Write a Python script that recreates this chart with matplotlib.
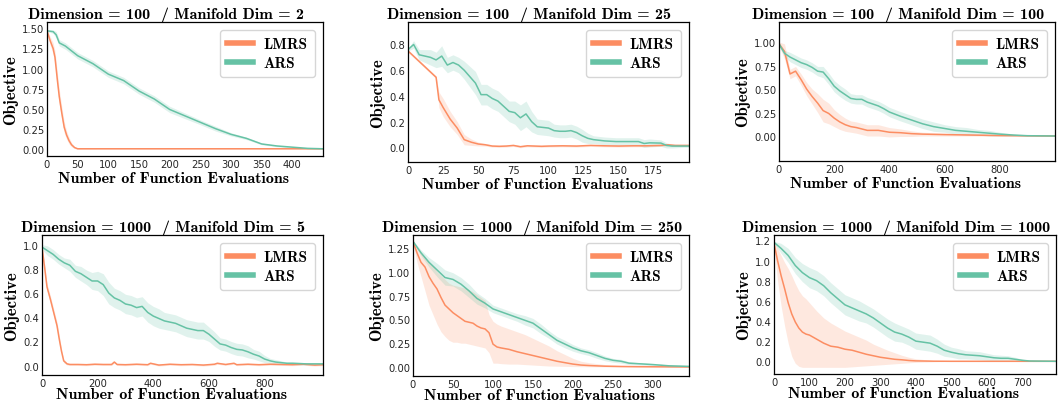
"""LMRS vs ARS convergence on synthetic manifold objectives (6 panels)."""

import matplotlib
matplotlib.use("Agg")
import matplotlib.pyplot as plt

LMRS_C = "#fc8d62"
ARS_C = "#66c2a5"
SERIF = ["cmb10", "DejaVu Serif"]

TITLES = [
    "Dimension = 100  / Manifold Dim = 2",
    "Dimension = 100  / Manifold Dim = 25",
    "Dimension = 100  / Manifold Dim = 100",
    "Dimension = 1000  / Manifold Dim = 5",
    "Dimension = 1000  / Manifold Dim = 250",
    "Dimension = 1000  / Manifold Dim = 1000",
]

# ---- panel 1: D=100, m=2 ----
p1_lmrs_x = [0, 5, 10, 13, 17, 20, 24, 28, 32, 36, 40, 45, 50, 100, 200, 300, 400, 450]
p1_lmrs = [1.47, 1.35, 1.25, 1.14, 0.85, 0.65, 0.45, 0.27, 0.17, 0.10, 0.05, 0.015, 0.0, 0.0, 0.0, 0.0, 0.0, 0.0]
p1_lmrs_sd = [0.01, 0.05, 0.07, 0.08, 0.09, 0.09, 0.08, 0.07, 0.05, 0.04, 0.025, 0.012, 0.005, 0.003, 0.003, 0.003, 0.003, 0.003]
p1_ars_x = [0, 10, 15, 20, 30, 40, 50, 60, 75, 100, 125, 150, 175, 200, 225, 250, 275, 300, 325, 350, 375, 400, 425, 450]
p1_ars = [1.47, 1.46, 1.42, 1.32, 1.28, 1.22, 1.16, 1.12, 1.06, 0.93, 0.85, 0.72, 0.62, 0.49, 0.41, 0.33, 0.25, 0.18, 0.13, 0.06, 0.035, 0.02, 0.005, 0.0]
p1_ars_sd = [0.01, 0.02, 0.04, 0.04, 0.04, 0.04, 0.04, 0.04, 0.04, 0.04, 0.04, 0.04, 0.04, 0.04, 0.035, 0.03, 0.03, 0.02, 0.015, 0.01, 0.01, 0.008, 0.005, 0.004]

# ---- panel 2: D=100, m=25 ----
p2_lmrs_x = [0, 20, 22, 25, 30, 35, 40, 45, 50, 55, 60, 65, 70, 75, 80, 85, 90, 95, 100, 110, 120,
             130, 140, 150, 160, 170, 180, 185, 190, 195, 200]
p2_lmrs = [0.75, 0.545, 0.37, 0.31, 0.22, 0.15, 0.06, 0.04, 0.026, 0.02, 0.01, 0.008, 0.01, 0.015, 0.005,
           0.012, 0.01, 0.008, 0.01, 0.012, 0.01, 0.015, 0.012, 0.01, 0.012, 0.012, 0.015, 0.02, 0.015, 0.015, 0.015]
p2_lmrs_sd = [0.01, 0.01, 0.06, 0.07, 0.06, 0.05, 0.04, 0.025, 0.015, 0.01, 0.008, 0.008, 0.008, 0.008, 0.008,
              0.008, 0.008, 0.008, 0.008, 0.008, 0.008, 0.008, 0.008, 0.008, 0.008, 0.008, 0.008, 0.008, 0.008, 0.008, 0.008]
p2_ars_x = [0, 4, 8, 12, 16, 20, 24, 28, 32, 36, 40, 44, 48, 52, 56, 60, 64, 68, 72, 76, 80, 84, 88, 92,
            96, 100, 104, 108, 112, 116, 120, 124, 128, 132, 136, 140, 148, 156, 164, 168, 172, 180, 184, 188, 196, 200]
p2_ars = [0.76, 0.80, 0.72, 0.71, 0.70, 0.68, 0.71, 0.64, 0.66, 0.64, 0.60, 0.55, 0.50, 0.41, 0.41, 0.38,
          0.36, 0.32, 0.28, 0.27, 0.23, 0.26, 0.20, 0.16, 0.155, 0.15, 0.13, 0.125, 0.125, 0.13, 0.115, 0.09,
          0.07, 0.06, 0.055, 0.05, 0.045, 0.045, 0.045, 0.03, 0.035, 0.033, 0.015, 0.01, 0.01, 0.01]
p2_ars_sd = [0.01, 0.03, 0.04, 0.05, 0.06, 0.06, 0.08, 0.06, 0.06, 0.06, 0.07, 0.08, 0.09, 0.08, 0.08, 0.08,
             0.08, 0.08, 0.08, 0.09, 0.1, 0.1, 0.08, 0.06, 0.06, 0.06, 0.05, 0.05, 0.05, 0.05, 0.05, 0.05,
             0.04, 0.03, 0.03, 0.03, 0.03, 0.03, 0.03, 0.03, 0.03, 0.025, 0.02, 0.015, 0.01, 0.01]

# ---- panel 3: D=100, m=100 ----
p3_lmrs_x = [0, 20, 40, 60, 80, 100, 120, 140, 160, 180, 200, 220, 240, 260, 280, 300, 320, 360, 400,
             440, 480, 520, 600, 700, 800, 900, 1000]
p3_lmrs = [0.98, 0.90, 0.66, 0.69, 0.60, 0.50, 0.42, 0.35, 0.27, 0.24, 0.19, 0.15, 0.12, 0.10, 0.09,
           0.075, 0.06, 0.06, 0.04, 0.035, 0.025, 0.02, 0.015, 0.01, 0.005, 0.002, 0.0]
p3_lmrs_sd = [0.02, 0.08, 0.05, 0.05, 0.06, 0.07, 0.08, 0.10, 0.12, 0.11, 0.09, 0.08, 0.07, 0.06, 0.06,
              0.06, 0.06, 0.06, 0.05, 0.04, 0.03, 0.02, 0.015, 0.01, 0.008, 0.005, 0.004]
p3_ars_x = [0, 20, 40, 60, 80, 100, 120, 140, 160, 180, 200, 220, 240, 260, 280, 300, 320, 340, 360, 380,
            400, 440, 480, 520, 560, 600, 640, 680, 720, 760, 800, 850, 900, 1000]
p3_ars = [0.98, 0.88, 0.84, 0.81, 0.78, 0.76, 0.73, 0.69, 0.68, 0.61, 0.53, 0.48, 0.44, 0.40, 0.39, 0.39,
          0.36, 0.34, 0.32, 0.29, 0.255, 0.21, 0.17, 0.13, 0.10, 0.08, 0.06, 0.05, 0.04, 0.03, 0.02, 0.01, 0.003, 0.0]
p3_ars_sd = [0.02, 0.03, 0.05, 0.05, 0.05, 0.05, 0.05, 0.05, 0.06, 0.06, 0.06, 0.06, 0.06, 0.05, 0.05,
             0.05, 0.05, 0.05, 0.05, 0.05, 0.05, 0.05, 0.05, 0.05, 0.05, 0.04, 0.04, 0.04, 0.03, 0.03, 0.02, 0.01, 0.005, 0.003]

# ---- panel 4: D=1000, m=5 ----
p4_lmrs_x = [0, 10, 18, 30, 42, 54, 62, 70, 78, 90, 100, 130, 160, 190, 220, 250, 260, 270, 300, 340,
             380, 390, 420, 460, 500, 540, 580, 620, 630, 660, 690, 700, 740, 780, 820, 860, 900, 940, 980, 1010]
p4_lmrs = [0.98, 0.80, 0.65, 0.55, 0.44, 0.33, 0.22, 0.12, 0.04, 0.015, 0.01, 0.01, 0.008, 0.012, 0.01,
           0.01, 0.03, 0.01, 0.008, 0.012, 0.008, 0.02, 0.005, 0.012, 0.008, 0.01, 0.005, 0.012, 0.02, 0.01,
           0.02, 0.008, 0.012, 0.008, 0.012, 0.01, 0.008, 0.012, 0.005, 0.008]
p4_lmrs_sd = [0.01, 0.03, 0.03, 0.03, 0.03, 0.03, 0.03, 0.02, 0.015, 0.01, 0.008, 0.008, 0.008, 0.008, 0.008,
              0.008, 0.008, 0.008, 0.008, 0.008, 0.008, 0.008, 0.008, 0.008, 0.008, 0.008, 0.008, 0.008, 0.008, 0.008,
              0.008, 0.008, 0.008, 0.008, 0.008, 0.008, 0.008, 0.008, 0.008, 0.008]
p4_ars_x = [0, 20, 40, 60, 80, 100, 120, 140, 160, 180, 200, 220, 240, 260, 280, 300, 320, 340, 360, 380,
            400, 420, 440, 460, 480, 500, 520, 540, 560, 580, 600, 620, 640, 660, 680, 700, 720, 740, 760,
            780, 800, 820, 840, 860, 880, 900, 950, 1010]
p4_ars = [0.98, 0.95, 0.92, 0.88, 0.85, 0.83, 0.78, 0.76, 0.73, 0.70, 0.70, 0.67, 0.60, 0.56, 0.54, 0.51,
          0.50, 0.48, 0.49, 0.44, 0.41, 0.39, 0.37, 0.36, 0.35, 0.33, 0.31, 0.30, 0.29, 0.29, 0.26, 0.22,
          0.18, 0.17, 0.15, 0.135, 0.13, 0.115, 0.095, 0.08, 0.055, 0.04, 0.03, 0.025, 0.02, 0.02, 0.015, 0.015]
p4_ars_sd = [0.02, 0.04, 0.04, 0.04, 0.04, 0.05, 0.05, 0.06, 0.06, 0.07, 0.08, 0.09, 0.09, 0.08, 0.08, 0.08,
             0.08, 0.08, 0.08, 0.08, 0.08, 0.08, 0.07, 0.07, 0.07, 0.07, 0.07, 0.07, 0.07, 0.07, 0.06, 0.06,
             0.05, 0.05, 0.05, 0.05, 0.05, 0.05, 0.04, 0.04, 0.03, 0.02, 0.02, 0.015, 0.01, 0.01, 0.01, 0.01]

# ---- panel 5: D=1000, m=250 (asymmetric band) ----
p5_lmrs_x = [0, 5, 10, 15, 20, 25, 30, 35, 40, 45, 50, 55, 60, 65, 70, 75, 80, 85, 90, 95, 100, 105,
             110, 120, 130, 140, 150, 160, 170, 180, 190, 200, 210, 220, 240, 260, 280, 300, 345]
p5_lmrs = [1.32, 1.20, 1.10, 1.05, 0.95, 0.88, 0.82, 0.73, 0.65, 0.61, 0.57, 0.54, 0.51, 0.48, 0.47, 0.46,
           0.43, 0.41, 0.40, 0.36, 0.24, 0.21, 0.20, 0.185, 0.16, 0.14, 0.12, 0.10, 0.08, 0.06, 0.045,
           0.03, 0.02, 0.015, 0.008, 0.005, 0.003, 0.002, 0.0]
p5_lmrs_lo = [1.30, 1.10, 0.95, 0.80, 0.65, 0.55, 0.45, 0.37, 0.32, 0.28, 0.26, 0.26, 0.25, 0.25, 0.24,
              0.23, 0.22, 0.21, 0.20, 0.15, 0.04, 0.04, 0.035, 0.03, 0.03, 0.025, 0.02, 0.015, 0.01, 0.008,
              0.006, 0.004, 0.003, 0.002, 0.001, 0.0, 0.0, 0.0, 0.0]
p5_lmrs_hi = [1.34, 1.25, 1.20, 1.15, 1.10, 1.06, 1.00, 0.96, 0.92, 0.88, 0.86, 0.85, 0.84, 0.83, 0.81,
              0.79, 0.76, 0.73, 0.70, 0.55, 0.48, 0.45, 0.43, 0.40, 0.37, 0.34, 0.30, 0.26, 0.22, 0.17,
              0.13, 0.09, 0.06, 0.045, 0.025, 0.015, 0.008, 0.005, 0.002]
p5_ars_x = [0, 10, 20, 30, 40, 50, 60, 70, 80, 90, 100, 110, 120, 130, 140, 150, 160, 170, 180, 190,
            200, 210, 220, 230, 240, 250, 260, 270, 280, 300, 320, 345]
p5_ars = [1.32, 1.20, 1.10, 1.02, 0.94, 0.92, 0.87, 0.80, 0.72, 0.67, 0.61, 0.58, 0.55, 0.52, 0.49, 0.46,
          0.40, 0.34, 0.28, 0.24, 0.20, 0.17, 0.15, 0.12, 0.09, 0.07, 0.06, 0.04, 0.035, 0.025, 0.012, 0.006]
p5_ars_sd = [0.01, 0.03, 0.05, 0.07, 0.08, 0.07, 0.07, 0.07, 0.06, 0.05, 0.04, 0.04, 0.04, 0.04, 0.05, 0.05,
             0.05, 0.04, 0.04, 0.04, 0.035, 0.03, 0.03, 0.03, 0.025, 0.02, 0.02, 0.015, 0.012, 0.01, 0.01, 0.008]

# ---- panel 6: D=1000, m=1000 (asymmetric band) ----
p6_lmrs_x = [0, 10, 20, 30, 40, 50, 60, 70, 80, 90, 100, 120, 140, 160, 180, 200, 220, 240, 260, 280,
             300, 320, 340, 360, 380, 400, 450, 500, 795]
p6_lmrs = [1.17, 1.00, 0.85, 0.72, 0.58, 0.47, 0.39, 0.33, 0.29, 0.27, 0.26, 0.22, 0.18, 0.15, 0.14, 0.12,
           0.11, 0.09, 0.07, 0.055, 0.04, 0.03, 0.02, 0.015, 0.008, 0.004, 0.001, 0.0, 0.0]
p6_lmrs_lo = [1.15, 0.80, 0.55, 0.35, 0.18, 0.05, -0.02, -0.05, -0.06, -0.06, -0.06, -0.06, -0.06, -0.06,
              -0.06, -0.06, -0.055, -0.05, -0.045, -0.04, -0.035, -0.03, -0.025, -0.02, -0.015, -0.01,
              -0.005, 0.0, 0.0]
p6_lmrs_hi = [1.19, 1.12, 1.05, 0.98, 0.92, 0.85, 0.77, 0.70, 0.65, 0.62, 0.58, 0.50, 0.43, 0.38, 0.34,
              0.30, 0.27, 0.24, 0.21, 0.17, 0.14, 0.11, 0.085, 0.06, 0.04, 0.025, 0.008, 0.002, 0.0]
p6_ars_x = [0, 20, 40, 60, 80, 100, 120, 140, 160, 180, 200, 220, 240, 260, 280, 300, 320, 340, 360, 380,
            400, 420, 440, 460, 480, 500, 520, 540, 560, 580, 600, 620, 640, 660, 680, 700, 720, 795]
p6_ars = [1.18, 1.12, 1.05, 0.95, 0.88, 0.83, 0.80, 0.75, 0.68, 0.62, 0.56, 0.53, 0.50, 0.47, 0.43, 0.38,
          0.33, 0.29, 0.27, 0.24, 0.20, 0.19, 0.18, 0.15, 0.11, 0.09, 0.075, 0.065, 0.06, 0.055, 0.045,
          0.035, 0.03, 0.03, 0.02, 0.01, 0.003, 0.0]
p6_ars_sd = [0.01, 0.05, 0.07, 0.08, 0.09, 0.10, 0.10, 0.10, 0.10, 0.10, 0.10, 0.10, 0.10, 0.09, 0.09, 0.09,
             0.09, 0.09, 0.08, 0.08, 0.08, 0.08, 0.08, 0.07, 0.06, 0.05, 0.05, 0.04, 0.04, 0.04, 0.035,
             0.03, 0.03, 0.025, 0.02, 0.01, 0.005, 0.003]

XLIMS = [(0, 450), (0, 200), (0, 1000), (0, 1010), (0, 345), (0, 795)]
YLIMS = [(-0.09, 1.58), (-0.114, 0.975), (-0.266, 1.213), (-0.077, 1.08), (-0.095, 1.387), (-0.126, 1.253)]
XTICKS = [range(0, 401, 50), range(0, 176, 25), range(0, 801, 200),
          range(0, 801, 200), range(0, 301, 50), range(0, 701, 100)]
YTICKS = [[0, 0.25, 0.5, 0.75, 1.0, 1.25, 1.5], [0, 0.2, 0.4, 0.6, 0.8], [0, 0.25, 0.5, 0.75, 1.0],
          [0, 0.2, 0.4, 0.6, 0.8, 1.0], [0, 0.25, 0.5, 0.75, 1.0, 1.25], [0, 0.2, 0.4, 0.6, 0.8, 1.0, 1.2]]
YFMT = ["{:.2f}", "{:.1f}", "{:.2f}", "{:.1f}", "{:.2f}", "{:.1f}"]


def band(mean, sd):
    return [m - s for m, s in zip(mean, sd)], [m + s for m, s in zip(mean, sd)]


p1 = (p1_lmrs_x, p1_lmrs, *band(p1_lmrs, p1_lmrs_sd), p1_ars_x, p1_ars, *band(p1_ars, p1_ars_sd))
p2 = (p2_lmrs_x, p2_lmrs, *band(p2_lmrs, p2_lmrs_sd), p2_ars_x, p2_ars, *band(p2_ars, p2_ars_sd))
p3 = (p3_lmrs_x, p3_lmrs, *band(p3_lmrs, p3_lmrs_sd), p3_ars_x, p3_ars, *band(p3_ars, p3_ars_sd))
p4 = (p4_lmrs_x, p4_lmrs, *band(p4_lmrs, p4_lmrs_sd), p4_ars_x, p4_ars, *band(p4_ars, p4_ars_sd))
p5 = (p5_lmrs_x, p5_lmrs, p5_lmrs_lo, p5_lmrs_hi, p5_ars_x, p5_ars, *band(p5_ars, p5_ars_sd))
p6 = (p6_lmrs_x, p6_lmrs, p6_lmrs_lo, p6_lmrs_hi, p6_ars_x, p6_ars, *band(p6_ars, p6_ars_sd))
PANELS = [p1, p2, p3, p4, p5, p6]

# axes boxes in pixels: left, right, top, bottom (figure is 1058 x 402)
W, H = 1058, 402
BOXES = [(47, 323, 23, 157), (408, 689, 23, 163), (779, 1055, 23, 162),
         (42, 323, 236, 376), (413, 689, 236, 377), (774, 1056, 236, 375)]

fig = plt.figure(figsize=(W / 100, H / 100), dpi=100)

for i, (data, box) in enumerate(zip(PANELS, BOXES)):
    lx, lm, llo, lhi, ax_x, am, alo, ahi = data
    l, r, t, b = box
    ax = fig.add_axes([l / W, 1 - b / H, (r - l) / W, (b - t) / H])

    ax.fill_between(lx, llo, lhi, color=LMRS_C, alpha=0.2, lw=0)
    ax.fill_between(ax_x, alo, ahi, color=ARS_C, alpha=0.2, lw=0)
    ax.plot(lx, lm, color=LMRS_C, lw=1.1, label="LMRS")
    ax.plot(ax_x, am, color=ARS_C, lw=1.1, label="ARS")

    ax.set_xlim(*XLIMS[i])
    ax.set_ylim(*YLIMS[i])
    ax.set_xticks(list(XTICKS[i]))
    ax.set_yticks(YTICKS[i])
    ax.set_yticklabels([YFMT[i].format(v) for v in YTICKS[i]])
    ax.tick_params(length=0, pad=2, labelsize=7.2, colors="#262626")
    for s in ax.spines.values():
        s.set_linewidth(0.9)

    # title/xlabel sit a little left of the axes centre in the original
    shift = 19 / (r - l)
    ax.set_title(TITLES[i], fontfamily=SERIF, fontsize=11.6, x=0.5 - shift, pad=3)
    ax.set_xlabel("Number of Function Evaluations", fontfamily=SERIF, fontsize=11.5)
    ax.xaxis.set_label_coords(0.5 - 11 / (r - l), -0.11 if i < 3 else -0.085)
    ax.set_ylabel("Objective", fontfamily=SERIF, fontsize=12, labelpad=3)

    leg = ax.legend(loc="upper right", prop={"family": SERIF, "size": 11},
                    handlelength=1.7, frameon=True, fancybox=True, borderpad=0.45,
                    labelspacing=0.3, handletextpad=0.7, borderaxespad=0.55)
    for h in leg.get_lines():
        h.set_linewidth(4)
    leg.get_frame().set_edgecolor("#cccccc")

fig.savefig("out.png", dpi=100)
